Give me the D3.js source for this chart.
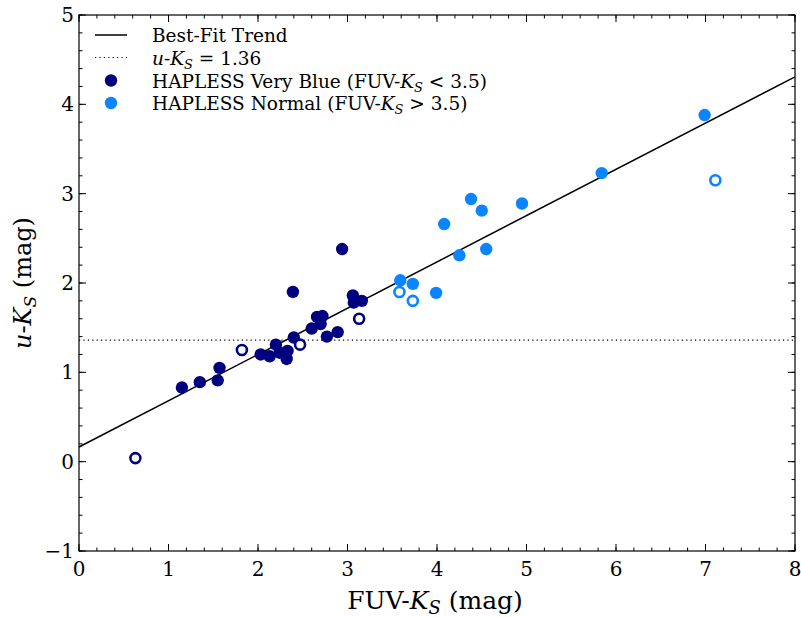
<!DOCTYPE html>
<html lang="en">
<head>
  <meta charset="UTF-8" />
  <title>u-Ks vs FUV-Ks</title>
  <script src="https://d3js.org/d3.v7.min.js"></script>
  <style>
    body { margin: 0; background: #fff; }
    svg { display: block; }
    text { font-family: "DejaVu Serif", serif; fill: #000; }
  </style>
</head>
<body>
  <div id="chart"></div>
  <script>
    // data
    const veryBlue = [
      [1.15, 0.83], [1.35, 0.89], [1.55, 0.91], [1.57, 1.05], [2.03, 1.20],
      [2.13, 1.18], [2.20, 1.31], [2.24, 1.22], [2.32, 1.15], [2.33, 1.24],
      [2.40, 1.39], [2.39, 1.90], [2.60, 1.49], [2.66, 1.62], [2.72, 1.63],
      [2.70, 1.54], [2.77, 1.40], [2.89, 1.45], [2.94, 2.38], [3.06, 1.86],
      [3.07, 1.78], [3.16, 1.80]
    ];
    const veryBlueOpen = [[0.63, 0.04], [1.82, 1.25], [2.47, 1.31], [3.13, 1.60]];
    const normal = [
      [3.59, 2.03], [3.73, 1.99], [3.99, 1.89], [4.08, 2.66], [4.25, 2.31],
      [4.38, 2.94], [4.50, 2.81], [4.55, 2.38], [4.95, 2.89], [5.84, 3.23],
      [6.99, 3.88]
    ];
    const normalOpen = [[3.58, 1.90], [3.73, 1.80], [7.11, 3.15]];
    const fitIntercept = 0.164, fitSlope = 0.518;
    const constLine = 1.36;
    const xTicks = [0, 1, 2, 3, 4, 5, 6, 7, 8];
    const yTicks = [-1, 0, 1, 2, 3, 4, 5];

    const W = 801, H = 617;
    const m = { left: 79, right: 6, top: 15, bottom: 66 };
    const dark = "#000080", light = "#0a84ff";

    const svg = d3.select("#chart").append("svg")
      .attr("width", W).attr("height", H);

    const x = d3.scaleLinear().domain([0, 8]).range([m.left, W - m.right]);
    const y = d3.scaleLinear().domain([-1, 5]).range([H - m.bottom, m.top]);

    const plot = svg.append("g");

    // reference line and fit
    plot.append("line")
      .attr("x1", x(0)).attr("x2", x(8))
      .attr("y1", y(constLine)).attr("y2", y(constLine))
      .attr("stroke", "#000").attr("stroke-width", 1.2)
      .attr("stroke-dasharray", "1.2,3.2");

    plot.append("line")
      .attr("x1", x(0)).attr("x2", x(8))
      .attr("y1", y(fitIntercept)).attr("y2", y(fitIntercept + fitSlope * 8))
      .attr("stroke", "#000").attr("stroke-width", 1.5);

    function dots(data, color, open) {
      plot.append("g").selectAll("circle")
        .data(data).join("circle")
        .attr("cx", d => x(d[0])).attr("cy", d => y(d[1]))
        .attr("r", open ? 5 : 6.2)
        .attr("fill", open ? "#fff" : color)
        .attr("stroke", color)
        .attr("stroke-width", open ? 2.6 : 0);
    }
    dots(veryBlue, dark, false);
    dots(veryBlueOpen, dark, true);
    dots(normal, light, false);
    dots(normalOpen, light, true);

    // axes with inward ticks on all sides
    const xMinor = d3.range(0, 8.001, 0.2);
    const yMinor = d3.range(-1, 5.001, 0.2);
    const ax = svg.append("g").attr("stroke", "#000");
    function ticks(vals, len, horiz) {
      vals.forEach(v => {
        if (horiz) {
          ax.append("line").attr("x1", x(v)).attr("x2", x(v))
            .attr("y1", y(-1)).attr("y2", y(-1) - len);
          ax.append("line").attr("x1", x(v)).attr("x2", x(v))
            .attr("y1", y(5)).attr("y2", y(5) + len);
        } else {
          ax.append("line").attr("y1", y(v)).attr("y2", y(v))
            .attr("x1", x(0)).attr("x2", x(0) + len);
          ax.append("line").attr("y1", y(v)).attr("y2", y(v))
            .attr("x1", x(8)).attr("x2", x(8) - len);
        }
      });
    }
    ticks(xMinor, 3.5, true);
    ticks(yMinor, 3.5, false);
    ticks(xTicks, 7, true);
    ticks(yTicks, 7, false);

    svg.append("rect")
      .attr("x", x(0)).attr("y", y(5))
      .attr("width", x(8) - x(0)).attr("height", y(-1) - y(5))
      .attr("fill", "none").attr("stroke", "#000").attr("stroke-width", 1.2);

    svg.append("g").selectAll("text").data(xTicks).join("text")
      .attr("x", d => x(d)).attr("y", y(-1) + 25)
      .attr("text-anchor", "middle").attr("font-size", 20)
      .text(d => d);

    svg.append("g").selectAll("text").data(yTicks).join("text")
      .attr("x", x(0) - 5).attr("y", d => y(d) + 7)
      .attr("text-anchor", "end").attr("font-size", 20)
      .text(d => d < 0 ? "\u2212" + Math.abs(d) : d);

    // axis titles
    const xl = svg.append("text")
      .attr("x", (x(0) + x(8)) / 2 - 2).attr("y", 609)
      .attr("text-anchor", "middle").attr("font-size", 25);
    xl.append("tspan").text("FUV-");
    xl.append("tspan").attr("font-style", "italic").text("K");
    xl.append("tspan").attr("font-style", "italic").attr("font-size", 18).attr("dy", 5).text("S");
    xl.append("tspan").attr("dy", -5).text(" (mag)");

    const yl = svg.append("text")
      .attr("transform", `translate(31,${(y(-1) + y(5)) / 2}) rotate(-90)`)
      .attr("text-anchor", "middle").attr("font-size", 24);
    yl.append("tspan").attr("font-style", "italic").text("u");
    yl.append("tspan").text("-");
    yl.append("tspan").attr("font-style", "italic").text("K");
    yl.append("tspan").attr("font-style", "italic").attr("font-size", 17).attr("dy", 5).text("S");
    yl.append("tspan").attr("dy", -5).text(" (mag)");

    // legend
    const lg = svg.append("g").attr("font-size", 18.5);
    const rows = [35, 57.5, 80.5, 103];
    const sub = 13;
    lg.append("line").attr("x1", 95).attr("x2", 127)
      .attr("y1", rows[0]).attr("y2", rows[0]).attr("stroke", "#000").attr("stroke-width", 1.5);
    lg.append("line").attr("x1", 95).attr("x2", 127)
      .attr("y1", rows[1]).attr("y2", rows[1]).attr("stroke", "#000").attr("stroke-width", 1.2)
      .attr("stroke-dasharray", "1.2,3.2");
    lg.append("circle").attr("cx", 111).attr("cy", rows[2]).attr("r", 6.2).attr("fill", dark);
    lg.append("circle").attr("cx", 111).attr("cy", rows[3]).attr("r", 6.2).attr("fill", light);

    const t0 = lg.append("text").attr("x", 152).attr("y", rows[0] + 7);
    t0.text("Best-Fit Trend");
    const t1 = lg.append("text").attr("x", 152).attr("y", rows[1] + 7);
    t1.append("tspan").attr("font-style", "italic").text("u");
    t1.append("tspan").text("-");
    t1.append("tspan").attr("font-style", "italic").text("K");
    t1.append("tspan").attr("font-style", "italic").attr("font-size", sub).attr("dy", 4).text("S");
    t1.append("tspan").attr("dy", -4).text(" = " + constLine);
    const t2 = lg.append("text").attr("x", 152).attr("y", rows[2] + 7);
    t2.append("tspan").text("HAPLESS Very Blue (FUV-");
    t2.append("tspan").attr("font-style", "italic").text("K");
    t2.append("tspan").attr("font-style", "italic").attr("font-size", sub).attr("dy", 4).text("S");
    t2.append("tspan").attr("dy", -4).text(" < 3.5)");
    const t3 = lg.append("text").attr("x", 152).attr("y", rows[3] + 7);
    t3.append("tspan").text("HAPLESS Normal (FUV-");
    t3.append("tspan").attr("font-style", "italic").text("K");
    t3.append("tspan").attr("font-style", "italic").attr("font-size", sub).attr("dy", 4).text("S");
    t3.append("tspan").attr("dy", -4).text(" > 3.5)");
  </script>
</body>
</html>
